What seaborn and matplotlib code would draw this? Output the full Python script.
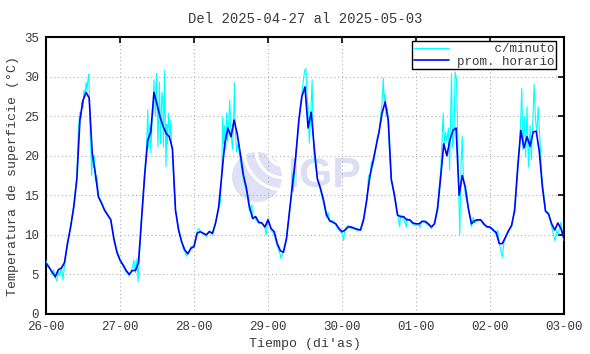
import pandas as pd
import matplotlib
matplotlib.use("Agg")
import matplotlib.pyplot as plt
import matplotlib.dates as mdates
from matplotlib.patches import Ellipse, Arc
import seaborn as sns

# ------------------------------------------------------------
# Datos (horas contadas desde 2025-04-26 00:00)
# ------------------------------------------------------------
inicio = pd.Timestamp("2025-04-26 00:00")
titulo = "Del 2025-04-27 al 2025-05-03"
etq_y = "Temperatura de superficie (°C)"
etq_x = "Tiempo (di'as)"

# promedio horario, una lectura por hora (h0 ... h168)
prom_d26 = [6.4, 5.9, 5.3, 4.7, 5.6, 5.8, 6.5, 9.0, 11.0, 13.5, 17.0, 24.5,
            27.0, 28.0, 27.3, 20.3, 17.8, 14.8, 14.0, 13.1, 12.5, 11.9, 9.5, 7.8]
prom_d27 = [6.8, 6.2, 5.5, 5.0, 5.5, 5.5, 6.5, 12.0, 17.5, 22.0, 23.0, 28.0,
            26.5, 24.9, 23.7, 22.8, 22.4, 20.9, 13.1, 10.6, 9.1, 8.1, 7.6, 8.3]
prom_d28 = [8.5, 10.2, 10.4, 10.2, 10.0, 10.4, 10.2, 11.5, 13.5, 17.5, 21.6, 23.5,
            22.4, 24.5, 22.8, 20.3, 17.6, 15.9, 13.5, 12.1, 12.3, 11.6, 11.5, 11.0]
prom_d29 = [11.9, 10.8, 10.4, 8.9, 8.0, 7.8, 9.5, 13.1, 16.5, 19.9, 24.5, 27.5,
            28.7, 23.5, 25.5, 21.0, 17.1, 15.9, 14.4, 12.5, 11.8, 11.6, 11.4, 10.8]
prom_d30 = [10.4, 10.6, 11.0, 11.0, 10.8, 10.7, 10.6, 11.9, 14.4, 17.3, 19.2, 21.1,
            23.0, 25.4, 26.8, 24.5, 17.0, 15.0, 12.5, 12.3, 12.3, 11.9, 11.9, 11.5]
prom_d01 = [11.4, 11.4, 11.7, 11.7, 11.4, 11.0, 11.4, 13.3, 17.3, 21.5, 20.0, 22.0,
            23.2, 23.5, 15.0, 17.5, 16.0, 13.3, 11.4, 11.8, 11.9, 11.9, 11.4, 11.0]
prom_d02 = [11.0, 10.6, 10.3, 8.9, 8.9, 9.7, 10.5, 11.2, 13.1, 18.6, 23.2, 21.0,
            22.4, 21.2, 23.0, 23.1, 20.5, 16.0, 13.0, 12.6, 11.4, 10.6, 11.5, 10.8, 9.5]

# c/minuto: (hora, temperatura)
cmin_d26 = [(0, 6.7), (1, 6.0), (2, 5.0), (2.5, 5.6), (3, 4.6), (3.5, 4.2), (4, 5.4),
            (4.5, 4.8), (5, 6.0), (5.5, 4.3), (6, 6.2), (7, 8.8), (8, 11.2), (9, 13.8),
            (10, 17.5), (10.5, 23.5), (11, 25.5), (11.3, 24.8), (11.6, 26.8), (12, 26.0),
            (12.3, 28.3), (12.6, 27.5), (13, 29.3), (13.3, 28.2), (13.6, 29.6), (13.9, 30.3),
            (14.1, 27.0), (14.4, 22.0), (14.6, 20.5), (14.8, 17.5), (15.1, 20.3), (15.4, 18.5),
            (15.7, 20.0), (16, 16.8), (16.5, 17.5), (17, 15.0), (18, 14.2), (19, 13.2),
            (20, 12.6), (21, 12.0), (22, 9.8), (23, 8.0)]
cmin_d27 = [(24, 7.0), (25, 6.0), (26, 5.3), (27, 4.8), (27.8, 5.6), (28.5, 6.8), (29, 5.2),
            (29.5, 7.0), (29.9, 4.1), (30.3, 7.5), (31, 12.5), (32, 18.0), (32.6, 21.0),
            (33.0, 25.8), (33.3, 21.0), (33.7, 24.0), (34.0, 20.3), (34.4, 24.5), (34.8, 25.8),
            (35.0, 29.6), (35.3, 26.5), (35.5, 25.0), (35.7, 29.0), (35.9, 30.4), (36.1, 25.5),
            (36.3, 21.1), (36.6, 26.0), (36.8, 29.3), (37.0, 24.5), (37.2, 21.5), (37.4, 25.5),
            (37.6, 28.0), (37.9, 27.0), (38.1, 21.1), (38.3, 26.0), (38.5, 30.8), (38.9, 18.6),
            (39.2, 24.0), (39.4, 21.5), (39.8, 25.4), (40.2, 22.5), (40.5, 24.5), (40.7, 21.0),
            (41, 20.8), (41.5, 16.0), (42, 13.3), (43, 10.8), (44, 9.3), (44.5, 8.2), (45, 7.9),
            (45.6, 7.3), (46, 7.8), (46.6, 8.0), (47, 8.5)]
cmin_d28 = [(48, 8.7), (48.5, 9.5), (49, 10.4), (49.5, 10.8), (50, 10.5), (51, 10.1), (52, 9.8),
            (52.5, 10.3), (53, 10.5), (54, 10.0), (55, 11.5), (56, 13.3), (56.5, 14.0),
            (57.0, 17.5), (57.3, 24.9), (57.6, 21.5), (57.9, 23.8), (58.3, 20.8), (58.6, 25.4),
            (58.9, 21.8), (59.2, 24.0), (59.6, 27.0), (60.0, 22.8), (60.5, 20.8), (60.9, 25.5),
            (61.1, 29.2), (61.4, 23.5), (61.8, 20.5), (62.2, 21.5), (63, 19.5), (64, 17.0),
            (65, 15.5), (66, 13.0), (66.8, 13.8), (67, 12.0), (68, 12.0), (69, 11.4), (70, 11.6),
            (71, 10.8), (71.4, 10.0)]
cmin_d29 = [(72, 12.1), (73, 10.6), (74, 10.0), (75, 8.6), (76, 7.5), (76.2, 7.0), (77, 7.9),
            (78, 9.8), (79, 12.8), (79.5, 14.8), (79.8, 17.8), (80.2, 15.5), (80.6, 18.0),
            (81, 20.2), (82, 24.0), (82.5, 26.5), (83, 27.8), (83.5, 29.6), (83.9, 30.8),
            (84.3, 31.0), (84.6, 28.0), (85.0, 26.0), (85.4, 21.6), (85.8, 24.5), (86.3, 29.6),
            (86.6, 24.0), (86.9, 20.0), (87.3, 19.0), (88, 17.2), (89, 15.6), (90, 14.0),
            (91, 12.2), (91.5, 12.8), (92, 11.6), (93, 11.8), (94, 11.2), (95, 10.6)]
cmin_d30 = [(96, 10.2), (96.5, 9.3), (97, 10.8), (98, 11.2), (99, 10.8), (100, 11.0),
            (101, 10.5), (102, 10.8), (103, 12.2), (104, 14.0), (104.6, 17.5), (105, 17.0),
            (105.5, 19.2), (106, 18.8), (106.5, 19.6), (107, 21.0), (107.5, 22.5), (108, 22.8),
            (108.4, 24.5), (108.8, 26.0), (109.1, 27.5), (109.4, 29.8), (109.7, 26.5),
            (110, 27.8), (110.3, 25.0), (110.7, 26.0), (111, 24.0), (111.5, 19.5), (112, 16.8),
            (113, 15.3), (114, 12.8), (114.7, 11.0), (115, 12.5), (116, 12.0), (116.9, 11.0),
            (117, 12.1), (118, 11.8), (119, 11.3)]
cmin_d01 = [(120, 11.2), (121, 11.3), (121.2, 10.9), (122, 11.8), (123, 11.5), (124, 11.2),
            (125, 10.8), (126, 11.5), (127, 13.8), (128, 18.0), (128.4, 21.5), (128.8, 25.4),
            (129.2, 21.5), (129.6, 23.0), (130, 21.8), (130.5, 23.5), (130.9, 18.2),
            (131.2, 24.0), (131.5, 30.4), (131.9, 21.0), (132.3, 22.4), (132.7, 30.6),
            (133.1, 29.8), (133.4, 25.4), (133.8, 16.1), (134.2, 10.0), (134.6, 18.5),
            (135.0, 22.4), (135.4, 17.0), (136, 15.0), (137, 13.3), (138, 11.0), (138.5, 12.2),
            (139, 11.5), (140, 11.8), (141, 11.8), (142, 11.2), (143, 11.2)]
cmin_d02 = [(144, 10.8), (145, 10.8), (146, 10.0), (146.5, 10.6), (147, 9.0), (148, 7.2),
            (148.5, 9.0), (149, 9.5), (150, 10.6), (151, 11.0), (152, 13.5), (153, 18.0),
            (153.6, 21.5), (154.0, 25.0), (154.3, 28.5), (154.7, 20.7), (155.2, 24.9),
            (155.6, 19.8), (156.0, 26.2), (156.5, 18.6), (157.0, 23.8), (157.4, 19.5),
            (157.9, 24.5), (158.3, 29.0), (158.7, 24.9), (159.2, 22.8), (159.6, 26.2),
            (160.2, 22.0), (160.8, 17.5), (161.5, 15.0), (162, 13.0), (163, 12.8), (164, 11.0),
            (165.1, 9.2), (165.6, 10.5), (166, 10.0), (167, 11.6), (167.5, 10.2), (168, 9.3)]

# ------------------------------------------------------------
# Tablas
# ------------------------------------------------------------
prom = prom_d26 + prom_d27 + prom_d28 + prom_d29 + prom_d30 + prom_d01 + prom_d02
df_h = pd.DataFrame({"hora": range(len(prom)), "temp": prom})
df_h["tiempo"] = inicio + pd.to_timedelta(df_h["hora"], unit="h")

cmin = cmin_d26 + cmin_d27 + cmin_d28 + cmin_d29 + cmin_d30 + cmin_d01 + cmin_d02
df_m = pd.DataFrame(cmin, columns=["hora", "temp"])
df_m["tiempo"] = inicio + pd.to_timedelta(df_m["hora"], unit="h")

# ------------------------------------------------------------
# Grafico
# ------------------------------------------------------------
sns.set_style("white")
plt.rcParams["font.family"] = ["Liberation Mono", "DejaVu Sans Mono"]
gris_txt = "#3a3a3a"

W, H = 590, 354
fig, ax = plt.subplots(figsize=(W / 100, H / 100), dpi=100)
fig.subplots_adjust(left=46 / W, right=564 / W, bottom=1 - 314 / H, top=1 - 37 / H)

# marca de agua (logo IGP)
circ = Ellipse((257 / W, 1 - 177 / H), 50 / W, 50 / H, transform=fig.transFigure,
               facecolor="#e0e0f6", edgecolor="none", zorder=0.5)
ax.add_patch(circ)
for r in [16, 28, 40]:
    arc = Arc((284 / W, 1 - 150 / H), 2 * r / W, 2 * r / H, theta1=150, theta2=290,
              transform=fig.transFigure, color="white", lw=2.2, zorder=0.6)
    arc.set_clip_path(circ)
    ax.add_patch(arc)
ax.text(287 / W, 1 - 176 / H, "IGP", transform=fig.transFigure, fontsize=31,
        fontweight="bold", family="Liberation Sans", color="#dedef3",
        ha="left", va="center", zorder=0.5)

sns.lineplot(data=df_m, x="tiempo", y="temp", ax=ax, color="#00ffff", lw=0.8,
             estimator=None, sort=False, label="     c/minuto", zorder=3)
sns.lineplot(data=df_h, x="tiempo", y="temp", ax=ax, color="#0000ff", lw=1.2,
             estimator=None, sort=False, label="prom. horario", zorder=4)

ax.set_xlim(inicio, inicio + pd.Timedelta(days=7))
ax.set_ylim(0, 35)
ax.set_yticks(range(0, 36, 5))
ax.xaxis.set_major_locator(mdates.DayLocator())
ax.xaxis.set_major_formatter(mdates.DateFormatter("%d-%H"))

ax.grid(True, color="#b0b0b0", linestyle=(0, (1, 2.5)), lw=0.8)
ax.tick_params(direction="in", length=4, width=1.2, top=True, right=True,
               labelsize=9, colors="black", labelcolor=gris_txt, pad=5)
for sp in ax.spines.values():
    sp.set_visible(True)
    sp.set_color("black")
    sp.set_linewidth(1.5)

ax.set_title(titulo, fontsize=10, pad=10, color=gris_txt)
ax.set_xlabel(etq_x, fontsize=9.5, color=gris_txt)
ax.set_ylabel(etq_y, fontsize=9.5, color=gris_txt)
ax.xaxis.set_label_coords(0.5, -0.085)
ax.yaxis.set_label_coords(-0.053, 0.5)

# leyenda con texto alineado a la derecha (fuente monoespaciada)
leg = ax.legend(loc="upper right", bbox_to_anchor=(556 / W, 1 - 41 / H),
                bbox_transform=fig.transFigure, borderaxespad=0, fontsize=9,
                frameon=True, fancybox=False, framealpha=1, edgecolor="black",
                handlelength=2.8, handletextpad=0.6, labelspacing=0.05,
                borderpad=0.15)
leg.get_frame().set_linewidth(1.0)
for t in leg.get_texts():
    t.set_color(gris_txt)

fig.savefig("out.png", dpi=100)
